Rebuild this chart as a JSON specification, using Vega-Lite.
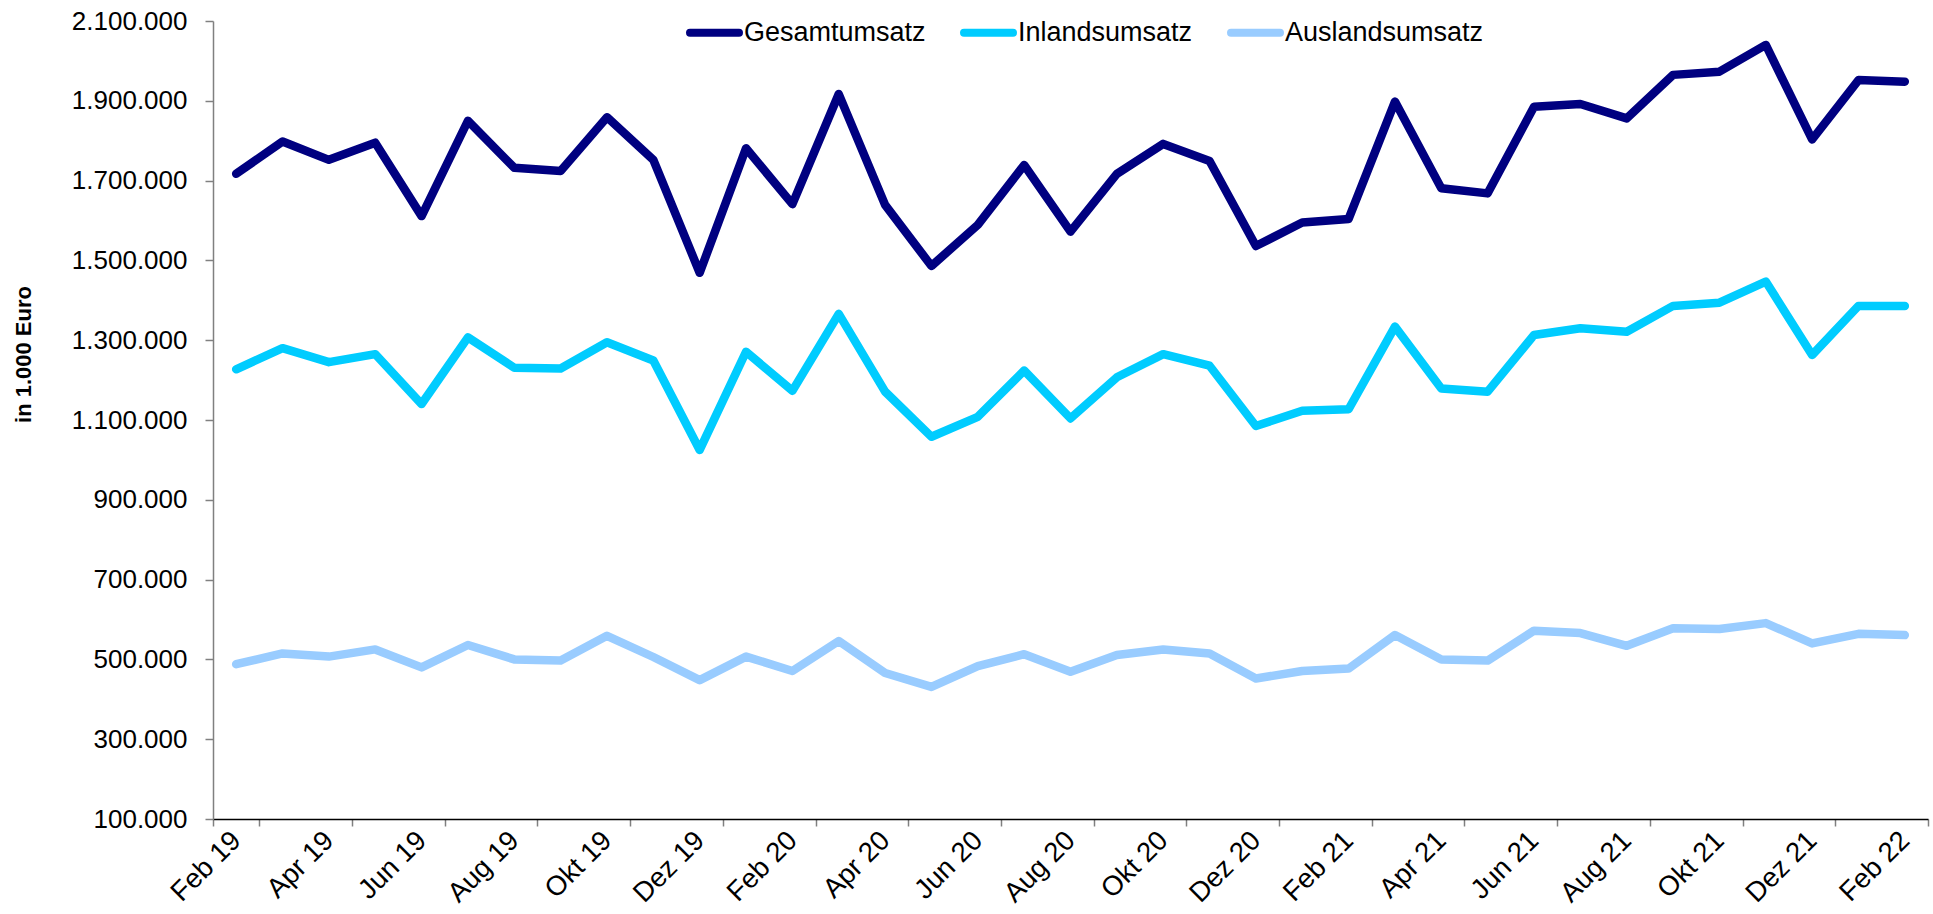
{
  "$schema": "https://vega.github.io/schema/vega-lite/v6.json",
  "width": 1715,
  "height": 798,
  "autosize": {"type": "none"},
  "padding": {"left": 213, "top": 21, "right": 5, "bottom": 95},
  "config": {
    "font": "Liberation Sans",
    "view": {"stroke": null},
    "background": "white"
  },
  "data": {
    "values": [
      {"Monat": "Feb 19", "Gesamtumsatz": 1717000, "Inlandsumsatz": 1227000, "Auslandsumsatz": 488000},
      {"Monat": "Mär 19", "Gesamtumsatz": 1798000, "Inlandsumsatz": 1280000, "Auslandsumsatz": 515000},
      {"Monat": "Apr 19", "Gesamtumsatz": 1752000, "Inlandsumsatz": 1245000, "Auslandsumsatz": 507000},
      {"Monat": "Mai 19", "Gesamtumsatz": 1795000, "Inlandsumsatz": 1265000, "Auslandsumsatz": 525000},
      {"Monat": "Jun 19", "Gesamtumsatz": 1611000, "Inlandsumsatz": 1140000, "Auslandsumsatz": 480000},
      {"Monat": "Jul 19", "Gesamtumsatz": 1850000, "Inlandsumsatz": 1307000, "Auslandsumsatz": 536000},
      {"Monat": "Aug 19", "Gesamtumsatz": 1732000, "Inlandsumsatz": 1231000, "Auslandsumsatz": 500000},
      {"Monat": "Sep 19", "Gesamtumsatz": 1724000, "Inlandsumsatz": 1229000, "Auslandsumsatz": 497000},
      {"Monat": "Okt 19", "Gesamtumsatz": 1859000, "Inlandsumsatz": 1295000, "Auslandsumsatz": 559000},
      {"Monat": "Nov 19", "Gesamtumsatz": 1752000, "Inlandsumsatz": 1249000, "Auslandsumsatz": 506000},
      {"Monat": "Dez 19", "Gesamtumsatz": 1469000, "Inlandsumsatz": 1025000, "Auslandsumsatz": 448000},
      {"Monat": "Jan 20", "Gesamtumsatz": 1781000, "Inlandsumsatz": 1271000, "Auslandsumsatz": 507000},
      {"Monat": "Feb 20", "Gesamtumsatz": 1641000, "Inlandsumsatz": 1173000, "Auslandsumsatz": 471000},
      {"Monat": "Mär 20", "Gesamtumsatz": 1917000, "Inlandsumsatz": 1366000, "Auslandsumsatz": 546000},
      {"Monat": "Apr 20", "Gesamtumsatz": 1639000, "Inlandsumsatz": 1171000, "Auslandsumsatz": 466000},
      {"Monat": "Mai 20", "Gesamtumsatz": 1486000, "Inlandsumsatz": 1058000, "Auslandsumsatz": 431000},
      {"Monat": "Jun 20", "Gesamtumsatz": 1589000, "Inlandsumsatz": 1108000, "Auslandsumsatz": 483000},
      {"Monat": "Jul 20", "Gesamtumsatz": 1739000, "Inlandsumsatz": 1224000, "Auslandsumsatz": 513000},
      {"Monat": "Aug 20", "Gesamtumsatz": 1572000, "Inlandsumsatz": 1104000, "Auslandsumsatz": 469000},
      {"Monat": "Sep 20", "Gesamtumsatz": 1717000, "Inlandsumsatz": 1207000, "Auslandsumsatz": 511000},
      {"Monat": "Okt 20", "Gesamtumsatz": 1792000, "Inlandsumsatz": 1265000, "Auslandsumsatz": 525000},
      {"Monat": "Nov 20", "Gesamtumsatz": 1749000, "Inlandsumsatz": 1236000, "Auslandsumsatz": 515000},
      {"Monat": "Dez 20", "Gesamtumsatz": 1536000, "Inlandsumsatz": 1085000, "Auslandsumsatz": 452000},
      {"Monat": "Jan 21", "Gesamtumsatz": 1595000, "Inlandsumsatz": 1123000, "Auslandsumsatz": 471000},
      {"Monat": "Feb 21", "Gesamtumsatz": 1604000, "Inlandsumsatz": 1127000, "Auslandsumsatz": 477000},
      {"Monat": "Mär 21", "Gesamtumsatz": 1898000, "Inlandsumsatz": 1334000, "Auslandsumsatz": 561000},
      {"Monat": "Apr 21", "Gesamtumsatz": 1681000, "Inlandsumsatz": 1179000, "Auslandsumsatz": 500000},
      {"Monat": "Mai 21", "Gesamtumsatz": 1668000, "Inlandsumsatz": 1171000, "Auslandsumsatz": 497000},
      {"Monat": "Jun 21", "Gesamtumsatz": 1885000, "Inlandsumsatz": 1313000, "Auslandsumsatz": 572000},
      {"Monat": "Jul 21", "Gesamtumsatz": 1892000, "Inlandsumsatz": 1330000, "Auslandsumsatz": 566000},
      {"Monat": "Aug 21", "Gesamtumsatz": 1856000, "Inlandsumsatz": 1321000, "Auslandsumsatz": 534000},
      {"Monat": "Sep 21", "Gesamtumsatz": 1965000, "Inlandsumsatz": 1386000, "Auslandsumsatz": 578000},
      {"Monat": "Okt 21", "Gesamtumsatz": 1973000, "Inlandsumsatz": 1394000, "Auslandsumsatz": 576000},
      {"Monat": "Nov 21", "Gesamtumsatz": 2040000, "Inlandsumsatz": 1447000, "Auslandsumsatz": 591000},
      {"Monat": "Dez 21", "Gesamtumsatz": 1803000, "Inlandsumsatz": 1263000, "Auslandsumsatz": 540000},
      {"Monat": "Jan 22", "Gesamtumsatz": 1952000, "Inlandsumsatz": 1386000, "Auslandsumsatz": 564000},
      {"Monat": "Feb 22", "Gesamtumsatz": 1948000, "Inlandsumsatz": 1386000, "Auslandsumsatz": 561000}
    ]
  },
  "transform": [
    {"fold": ["Gesamtumsatz", "Inlandsumsatz", "Auslandsumsatz"], "as": ["Reihe", "Wert"]}
  ],
  "mark": {"type": "line", "strokeWidth": 8.5, "strokeCap": "round", "strokeJoin": "round"},
  "encoding": {
    "x": {
      "field": "Monat",
      "type": "ordinal",
      "sort": null,
      "scale": {"type": "band", "paddingInner": 0, "paddingOuter": 0},
      "axis": {
        "title": null,
        "values": ["Feb 19", "Apr 19", "Jun 19", "Aug 19", "Okt 19", "Dez 19", "Feb 20", "Apr 20", "Jun 20", "Aug 20", "Okt 20", "Dez 20", "Feb 21", "Apr 21", "Jun 21", "Aug 21", "Okt 21", "Dez 21", "Feb 22"],
        "tickBand": "extent",
        "domainColor": "#000000",
        "domainWidth": 1.5,
        "tickColor": "#808080",
        "tickWidth": 1.5,
        "tickSize": 7,
        "labelAngle": -45,
        "labelAlign": "right",
        "labelBaseline": "middle",
        "labelFontSize": 27.5,
        "labelColor": "#000000",
        "labelPadding": 10,
        "labelOverlap": false,
        "grid": false
      }
    },
    "y": {
      "field": "Wert",
      "type": "quantitative",
      "scale": {"domain": [100000, 2100000], "nice": false, "zero": false},
      "axis": {
        "title": "in 1.000 Euro",
        "titleFontSize": 22,
        "titleFontWeight": "bold",
        "titleColor": "#000000",
        "titleAngle": -90,
        "titleX": -190,
        "titleY": 333,
        "titleAlign": "center",
        "titleBaseline": "middle",
        "values": [100000, 300000, 500000, 700000, 900000, 1100000, 1300000, 1500000, 1700000, 1900000, 2100000],
        "labelExpr": "replace(replace(format(datum.value, ','), ',', '.'), ',', '.')",
        "labelFontSize": 26,
        "labelColor": "#000000",
        "labelPadding": 18,
        "domainColor": "#808080",
        "domainWidth": 1.5,
        "tickColor": "#808080",
        "tickWidth": 1.5,
        "tickSize": 8,
        "grid": false
      }
    },
    "color": {
      "field": "Reihe",
      "type": "nominal",
      "sort": ["Gesamtumsatz", "Inlandsumsatz", "Auslandsumsatz"],
      "scale": {
        "domain": ["Gesamtumsatz", "Inlandsumsatz", "Auslandsumsatz"],
        "range": ["#000080", "#00CCFF", "#99CCFF"]
      },
      "legend": {
        "title": null,
        "orient": "none",
        "direction": "horizontal",
        "legendX": 473,
        "legendY": -17,
        "padding": 0,
        "symbolType": "stroke",
        "symbolSize": 2400,
        "symbolStrokeWidth": 8,
        "labelFontSize": 27,
        "labelColor": "#000000",
        "labelOffset": 1,
        "columnPadding": 22,
        "labelLimit": 400,
        "encode": {"symbols": {"update": {"strokeCap": {"value": "round"}}}}
      }
    }
  }
}
